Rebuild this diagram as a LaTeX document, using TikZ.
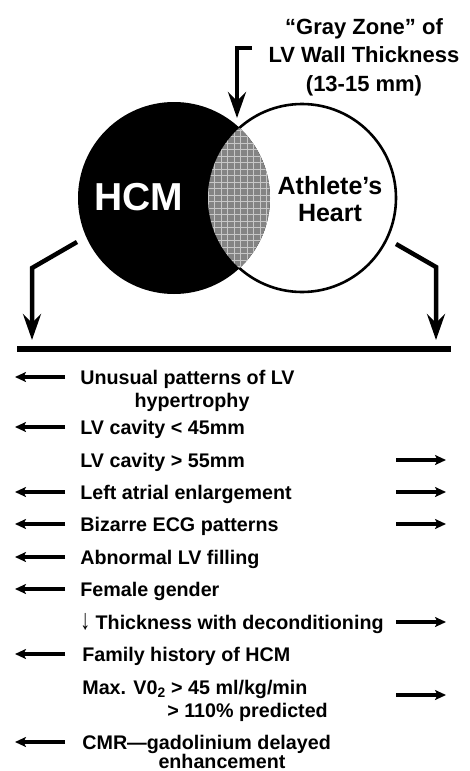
\documentclass[tikz,border=0pt]{standalone}
\usepackage{fontspec}
\usetikzlibrary{arrows.meta}
\newfontfamily\figfont{Liberation Sans}
\newcommand{\titlefont}{\figfont\bfseries\fontsize{22}{28.5}\selectfont}
\newcommand{\rowfont}{\figfont\bfseries\fontsize{19.7}{23}\selectfont}
\newcommand{\downmark}{\raisebox{-0.5pt}{\scalebox{1}[1.45]{↓}}}
\definecolor{lensgray}{RGB}{132,132,132}
\tikzset{every picture/.style={line width=0.75pt}}
\tikzset{
  bigarrow/.style={line width=4.5pt, -{Stealth[length=26pt,width=18pt,inset=9pt]}},
  rowarrow/.style={line width=3.2pt, -{Stealth[length=11pt,width=10pt,inset=2.5pt]}},
  rowtext/.style={anchor=west, inner sep=0pt, font=\rowfont, text height=14pt, text depth=0pt},
}

\begin{document}
\begin{tikzpicture}[x=1pt,y=1pt,yscale=-1,xscale=1]
\useasboundingbox (0,0) rectangle (469,771);
\fill[white] (0,0) rectangle (469,771);

%Circle: Athlete's Heart
\node (heart) [circle, draw, fill=white, line width=2.6pt, minimum size=188pt, inner sep=0pt] at (302,198) {};
%Circle: HCM
\node (hcm) [circle, fill=black, minimum size=192pt, inner sep=0pt] at (174,198) {};
%Gray zone (overlap)
\begin{scope}
\clip (hcm.center) circle (96pt);
\clip (heart.center) circle (94pt);
\fill[lensgray] (heart.center) circle (94pt);
\draw[white, line width=0.5pt, opacity=0.55, step=6.5] (195,100) grid (285,300);
\end{scope}

% Text Node
\node (hcmlabel) [font=\figfont\bfseries\fontsize{39}{44}\selectfont, text=white, inner sep=0pt] at (139,197) {HCM};
% Text Node
\node (athlete) [font=\figfont\bfseries\fontsize{25}{27}\selectfont, align=center, inner sep=0pt] at (330,199) {Athlete’s\\Heart};
% Text Node
\node (grayzone) [font=\titlefont, align=center, inner sep=0pt] at (364,57) {“Gray Zone” of\\LV Wall Thickness\\(13-15 mm)};

%Elbow arrows
\coordinate (zonebar) at (252,48);
\coordinate (zonetip) at (237,118);
\draw[bigarrow] (zonebar) -- (zonebar -| zonetip) -- (zonetip);
\coordinate (hcmout) at (77,242);
\coordinate (hcmbend) at (32,268);
\coordinate (hcmtip) at (32,340);
\draw[bigarrow] (hcmout) -- (hcmbend) -- (hcmtip);
\coordinate (heartout) at (396,244);
\coordinate (heartbend) at (436,267);
\coordinate (hearttip) at (436,340);
\draw[bigarrow] (heartout) -- (heartbend) -- (hearttip);

%Straight Lines: bar
\coordinate (barL) at (17,349);
\coordinate (barR) at (451,349);
\draw[line width=6pt] (barL) -- (barR);

% Text Node: rows
\node (unusual) [rowtext] at (80,377) {Unusual patterns of LV};
\node (unusualb) [rowtext, anchor=center] at (192,400) {hypertrophy};
\node (lvsmall) [rowtext] at (80,427) {LV cavity < 45mm};
\node (lvlarge) [rowtext] at (80,460) {LV cavity > 55mm};
\node (atrial) [rowtext] at (80,492) {Left atrial enlargement};
\node (bizarre) [rowtext] at (80,524) {Bizarre ECG patterns};
\node (filling) [rowtext] at (80,557) {Abnormal LV filling};
\node (female) [rowtext] at (80,589) {Female gender};
\node (decond) [rowtext] at (80,622) {\downmark\ Thickness with deconditioning};
\node (family) [rowtext] at (82,654) {Family history of HCM};
\node (maxvo) [rowtext] at (82,687) {Max. V0\textsubscript{2} > 45 ml/kg/min};
\node (maxvob) [rowtext] at (167,710) {> 110\% predicted};
\node (cmr) [rowtext] at (82,742) {CMR—gadolinium delayed};
\node (cmrb) [rowtext, anchor=center] at (222,761) {enhancement};

%Row arrows
\coordinate (hcmside) at (65,0);
\coordinate (hcmsidetip) at (15,0);
\coordinate (heartside) at (396,0);
\coordinate (heartsidetip) at (446,0);
\coordinate (maxvomid) at (0,695);
\draw[rowarrow] (hcmside |- unusual.west) -- (hcmsidetip |- unusual.west);
\draw[rowarrow] (hcmside |- lvsmall.west) -- (hcmsidetip |- lvsmall.west);
\draw[rowarrow] (heartside |- lvlarge.west) -- (heartsidetip |- lvlarge.west);
\draw[rowarrow] (hcmside |- atrial.west) -- (hcmsidetip |- atrial.west);
\draw[rowarrow] (heartside |- atrial.west) -- (heartsidetip |- atrial.west);
\draw[rowarrow] (hcmside |- bizarre.west) -- (hcmsidetip |- bizarre.west);
\draw[rowarrow] (heartside |- bizarre.west) -- (heartsidetip |- bizarre.west);
\draw[rowarrow] (hcmside |- filling.west) -- (hcmsidetip |- filling.west);
\draw[rowarrow] (hcmside |- female.west) -- (hcmsidetip |- female.west);
\draw[rowarrow] (heartside |- decond.west) -- (heartsidetip |- decond.west);
\draw[rowarrow] (hcmside |- family.west) -- (hcmsidetip |- family.west);
\draw[rowarrow] (heartside |- maxvomid) -- (heartsidetip |- maxvomid);
\draw[rowarrow] (hcmside |- cmr.west) -- (hcmsidetip |- cmr.west);

\end{tikzpicture}
\end{document}
